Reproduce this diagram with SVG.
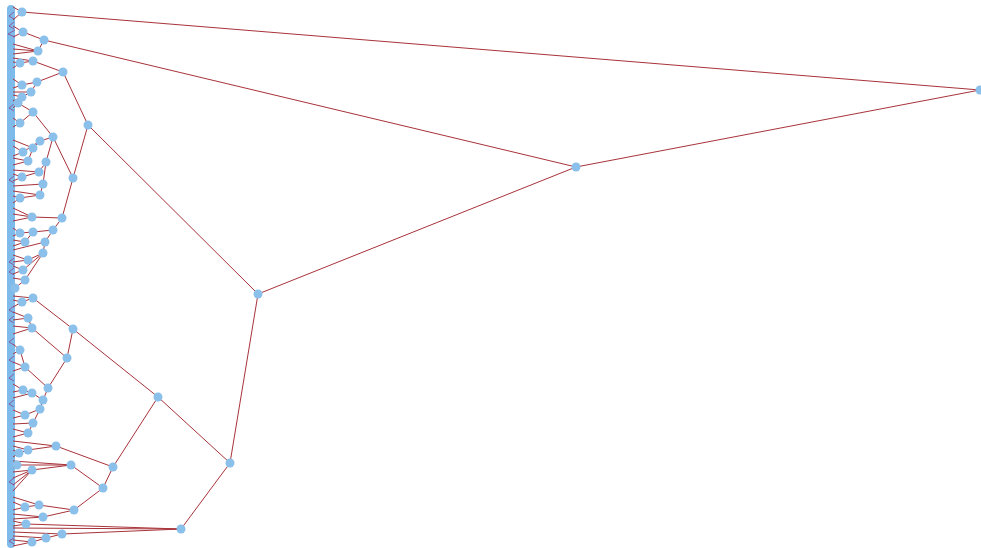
<svg xmlns="http://www.w3.org/2000/svg" width="981" height="548" viewBox="0 0 981 548">
<style>
.e{stroke:#a8333a;stroke-width:1;fill:none}
.s{stroke:#8a3a7a;stroke-width:0.9;fill:none;opacity:0.8}
.n{fill:#8ac0ea}
.bar{fill:#7fbbea}
</style>
<rect width="981" height="548" fill="#ffffff"/>
<g id="leaves"><rect class="bar" x="7" y="5" width="8" height="543" rx="4"/></g>
<g id="connectors">
<line class="e" x1="980" y1="90" x2="22" y2="12"/>
<line class="e" x1="980" y1="90" x2="576" y2="167"/>
<line class="e" x1="576" y1="167" x2="44" y2="40"/>
<line class="e" x1="576" y1="167" x2="258" y2="294"/>
<line class="e" x1="22" y1="12" x2="13" y2="7"/>
<line class="e" x1="22" y1="12" x2="13" y2="20"/>
<line class="e" x1="44" y1="40" x2="23" y2="32"/>
<line class="e" x1="44" y1="40" x2="38" y2="51"/>
<line class="e" x1="23" y1="32" x2="13" y2="26"/>
<line class="e" x1="23" y1="32" x2="13" y2="37"/>
<line class="e" x1="38" y1="51" x2="13" y2="44"/>
<line class="e" x1="38" y1="51" x2="13" y2="49"/>
<line class="e" x1="38" y1="51" x2="13" y2="54"/>
<line class="e" x1="258" y1="294" x2="88" y2="125"/>
<line class="e" x1="258" y1="294" x2="230" y2="463"/>
<line class="e" x1="88" y1="125" x2="63" y2="72"/>
<line class="e" x1="88" y1="125" x2="73" y2="178"/>
<line class="e" x1="63" y1="72" x2="33" y2="61"/>
<line class="e" x1="63" y1="72" x2="37" y2="82"/>
<line class="e" x1="33" y1="61" x2="20" y2="63"/>
<line class="e" x1="33" y1="61" x2="13" y2="58"/>
<line class="e" x1="20" y1="63" x2="13" y2="62"/>
<line class="e" x1="20" y1="63" x2="13" y2="68"/>
<line class="e" x1="37" y1="82" x2="22" y2="85"/>
<line class="e" x1="37" y1="82" x2="31" y2="92"/>
<line class="e" x1="22" y1="85" x2="13" y2="79"/>
<line class="e" x1="22" y1="85" x2="13" y2="88"/>
<line class="e" x1="31" y1="92" x2="22" y2="97"/>
<line class="e" x1="31" y1="92" x2="13" y2="92"/>
<line class="e" x1="22" y1="97" x2="13" y2="95"/>
<line class="e" x1="22" y1="97" x2="13" y2="101"/>
<line class="e" x1="73" y1="178" x2="53" y2="137"/>
<line class="e" x1="73" y1="178" x2="62" y2="218"/>
<line class="e" x1="53" y1="137" x2="33" y2="112"/>
<line class="e" x1="53" y1="137" x2="40" y2="141"/>
<line class="e" x1="53" y1="137" x2="46" y2="162"/>
<line class="e" x1="33" y1="112" x2="18" y2="103"/>
<line class="e" x1="33" y1="112" x2="20" y2="123"/>
<line class="e" x1="18" y1="103" x2="13" y2="100"/>
<line class="e" x1="18" y1="103" x2="13" y2="108"/>
<line class="e" x1="20" y1="123" x2="13" y2="118"/>
<line class="e" x1="20" y1="123" x2="13" y2="127"/>
<line class="e" x1="40" y1="141" x2="23" y2="152"/>
<line class="e" x1="40" y1="141" x2="33" y2="148"/>
<line class="e" x1="23" y1="152" x2="13" y2="146"/>
<line class="e" x1="23" y1="152" x2="13" y2="156"/>
<line class="e" x1="33" y1="148" x2="28" y2="161"/>
<line class="e" x1="33" y1="148" x2="13" y2="140"/>
<line class="e" x1="28" y1="161" x2="13" y2="158"/>
<line class="e" x1="28" y1="161" x2="13" y2="165"/>
<line class="e" x1="46" y1="162" x2="39" y2="172"/>
<line class="e" x1="46" y1="162" x2="43" y2="184"/>
<line class="e" x1="39" y1="172" x2="22" y2="177"/>
<line class="e" x1="39" y1="172" x2="13" y2="170"/>
<line class="e" x1="22" y1="177" x2="13" y2="174"/>
<line class="e" x1="22" y1="177" x2="13" y2="181"/>
<line class="e" x1="43" y1="184" x2="40" y2="195"/>
<line class="e" x1="43" y1="184" x2="13" y2="186"/>
<line class="e" x1="40" y1="195" x2="20" y2="198"/>
<line class="e" x1="40" y1="195" x2="13" y2="191"/>
<line class="e" x1="20" y1="198" x2="13" y2="196"/>
<line class="e" x1="20" y1="198" x2="13" y2="203"/>
<line class="e" x1="62" y1="218" x2="32" y2="217"/>
<line class="e" x1="62" y1="218" x2="53" y2="230"/>
<line class="e" x1="32" y1="217" x2="13" y2="208"/>
<line class="e" x1="32" y1="217" x2="13" y2="214"/>
<line class="e" x1="32" y1="217" x2="13" y2="221"/>
<line class="e" x1="53" y1="230" x2="33" y2="232"/>
<line class="e" x1="53" y1="230" x2="45" y2="242"/>
<line class="e" x1="33" y1="232" x2="20" y2="233"/>
<line class="e" x1="33" y1="232" x2="25" y2="242"/>
<line class="e" x1="20" y1="233" x2="13" y2="228"/>
<line class="e" x1="20" y1="233" x2="13" y2="236"/>
<line class="e" x1="25" y1="242" x2="13" y2="240"/>
<line class="e" x1="25" y1="242" x2="13" y2="246"/>
<line class="e" x1="45" y1="242" x2="43" y2="253"/>
<line class="e" x1="45" y1="242" x2="13" y2="250"/>
<line class="e" x1="43" y1="253" x2="28" y2="260"/>
<line class="e" x1="43" y1="253" x2="23" y2="270"/>
<line class="e" x1="43" y1="253" x2="25" y2="280"/>
<line class="e" x1="28" y1="260" x2="13" y2="255"/>
<line class="e" x1="28" y1="260" x2="13" y2="262"/>
<line class="e" x1="23" y1="270" x2="13" y2="266"/>
<line class="e" x1="23" y1="270" x2="13" y2="274"/>
<line class="e" x1="25" y1="280" x2="15" y2="288"/>
<line class="e" x1="25" y1="280" x2="13" y2="278"/>
<line class="e" x1="15" y1="288" x2="13" y2="284"/>
<line class="e" x1="15" y1="288" x2="13" y2="292"/>
<line class="e" x1="230" y1="463" x2="158" y2="397"/>
<line class="e" x1="230" y1="463" x2="181" y2="529"/>
<line class="e" x1="158" y1="397" x2="73" y2="329"/>
<line class="e" x1="158" y1="397" x2="113" y2="467"/>
<line class="e" x1="73" y1="329" x2="33" y2="298"/>
<line class="e" x1="73" y1="329" x2="67" y2="358"/>
<line class="e" x1="33" y1="298" x2="22" y2="302"/>
<line class="e" x1="33" y1="298" x2="13" y2="296"/>
<line class="e" x1="22" y1="302" x2="13" y2="300"/>
<line class="e" x1="22" y1="302" x2="13" y2="307"/>
<line class="e" x1="67" y1="358" x2="32" y2="328"/>
<line class="e" x1="67" y1="358" x2="48" y2="388"/>
<line class="e" x1="32" y1="328" x2="28" y2="318"/>
<line class="e" x1="32" y1="328" x2="13" y2="326"/>
<line class="e" x1="32" y1="328" x2="13" y2="334"/>
<line class="e" x1="28" y1="318" x2="13" y2="312"/>
<line class="e" x1="28" y1="318" x2="13" y2="320"/>
<line class="e" x1="48" y1="388" x2="25" y2="367"/>
<line class="e" x1="48" y1="388" x2="43" y2="400"/>
<line class="e" x1="25" y1="367" x2="20" y2="350"/>
<line class="e" x1="25" y1="367" x2="13" y2="362"/>
<line class="e" x1="25" y1="367" x2="13" y2="371"/>
<line class="e" x1="20" y1="350" x2="13" y2="344"/>
<line class="e" x1="20" y1="350" x2="13" y2="354"/>
<line class="e" x1="43" y1="400" x2="32" y2="393"/>
<line class="e" x1="43" y1="400" x2="40" y2="409"/>
<line class="e" x1="32" y1="393" x2="23" y2="390"/>
<line class="e" x1="32" y1="393" x2="13" y2="398"/>
<line class="e" x1="23" y1="390" x2="13" y2="384"/>
<line class="e" x1="23" y1="390" x2="13" y2="392"/>
<line class="e" x1="40" y1="409" x2="25" y2="415"/>
<line class="e" x1="40" y1="409" x2="33" y2="423"/>
<line class="e" x1="25" y1="415" x2="13" y2="410"/>
<line class="e" x1="25" y1="415" x2="13" y2="418"/>
<line class="e" x1="33" y1="423" x2="28" y2="433"/>
<line class="e" x1="33" y1="423" x2="13" y2="424"/>
<line class="e" x1="28" y1="433" x2="13" y2="429"/>
<line class="e" x1="28" y1="433" x2="13" y2="437"/>
<line class="e" x1="113" y1="467" x2="56" y2="446"/>
<line class="e" x1="113" y1="467" x2="103" y2="488"/>
<line class="e" x1="56" y1="446" x2="28" y2="450"/>
<line class="e" x1="56" y1="446" x2="13" y2="441"/>
<line class="e" x1="28" y1="450" x2="19" y2="453"/>
<line class="e" x1="28" y1="450" x2="13" y2="446"/>
<line class="e" x1="19" y1="453" x2="13" y2="450"/>
<line class="e" x1="19" y1="453" x2="13" y2="457"/>
<line class="e" x1="103" y1="488" x2="71" y2="465"/>
<line class="e" x1="103" y1="488" x2="74" y2="510"/>
<line class="e" x1="71" y1="465" x2="32" y2="470"/>
<line class="e" x1="71" y1="465" x2="17" y2="465"/>
<line class="e" x1="71" y1="465" x2="13" y2="461"/>
<line class="e" x1="17" y1="465" x2="13" y2="463"/>
<line class="e" x1="17" y1="465" x2="13" y2="468"/>
<line class="e" x1="32" y1="470" x2="13" y2="472"/>
<line class="e" x1="32" y1="470" x2="13" y2="478"/>
<line class="e" x1="32" y1="470" x2="13" y2="485"/>
<line class="e" x1="32" y1="470" x2="13" y2="491"/>
<line class="e" x1="74" y1="510" x2="39" y2="505"/>
<line class="e" x1="74" y1="510" x2="43" y2="517"/>
<line class="e" x1="39" y1="505" x2="25" y2="507"/>
<line class="e" x1="39" y1="505" x2="13" y2="497"/>
<line class="e" x1="25" y1="507" x2="13" y2="502"/>
<line class="e" x1="25" y1="507" x2="13" y2="510"/>
<line class="e" x1="43" y1="517" x2="13" y2="514"/>
<line class="e" x1="43" y1="517" x2="13" y2="519"/>
<line class="e" x1="181" y1="529" x2="62" y2="534"/>
<line class="e" x1="181" y1="529" x2="26" y2="524"/>
<line class="e" x1="181" y1="529" x2="13" y2="528"/>
<line class="e" x1="26" y1="524" x2="13" y2="521"/>
<line class="e" x1="26" y1="524" x2="13" y2="526"/>
<line class="e" x1="62" y1="534" x2="46" y2="538"/>
<line class="e" x1="62" y1="534" x2="13" y2="532"/>
<line class="e" x1="46" y1="538" x2="32" y2="542"/>
<line class="e" x1="46" y1="538" x2="13" y2="536"/>
<line class="e" x1="32" y1="542" x2="13" y2="540"/>
<line class="e" x1="32" y1="542" x2="13" y2="546"/>
<path class="s" d="M14 12 L9 16 L14 19 M14 22 L9 26 L14 29 M15 30 L8 34 L15 37 M14 104 L9 108 L14 111 M14 176 L9 180 L14 183 M14 258 L9 262 L14 265 M14 268 L9 272 L14 275 M14 306 L9 310 L14 313 M14 316 L9 320 L14 323 M14 338 L9 342 L14 345 M14 356 L9 360 L14 363 M14 374 L9 378 L14 381 M14 400 L9 404 L14 407 M14 478 L9 482 L14 485 M14 538 L9 541 L14 544"/>
</g>
<g id="R"><circle class="n" cx="980" cy="90" r="4.5"/></g>
<g id="A"><circle class="n" cx="22" cy="12" r="4.5"/></g>
<g id="B"><circle class="n" cx="576" cy="167" r="4.5"/></g>
<g id="C"><circle class="n" cx="44" cy="40" r="4.5"/></g>
<g id="C1"><circle class="n" cx="23" cy="32" r="4.5"/></g>
<g id="C2"><circle class="n" cx="38" cy="51" r="4.5"/></g>
<g id="D"><circle class="n" cx="258" cy="294" r="4.5"/></g>
<g id="E"><circle class="n" cx="88" cy="125" r="4.5"/></g>
<g id="K"><circle class="n" cx="63" cy="72" r="4.5"/></g>
<g id="K1"><circle class="n" cx="33" cy="61" r="4.5"/></g>
<g id="K2"><circle class="n" cx="20" cy="63" r="4.5"/></g>
<g id="K3"><circle class="n" cx="37" cy="82" r="4.5"/></g>
<g id="K4"><circle class="n" cx="22" cy="85" r="4.5"/></g>
<g id="K5"><circle class="n" cx="31" cy="92" r="4.5"/></g>
<g id="K6"><circle class="n" cx="22" cy="97" r="4.5"/></g>
<g id="M"><circle class="n" cx="73" cy="178" r="4.5"/></g>
<g id="N"><circle class="n" cx="53" cy="137" r="4.5"/></g>
<g id="N1"><circle class="n" cx="33" cy="112" r="4.5"/></g>
<g id="N2"><circle class="n" cx="18" cy="103" r="4.5"/></g>
<g id="N3"><circle class="n" cx="20" cy="123" r="4.5"/></g>
<g id="N4"><circle class="n" cx="40" cy="141" r="4.5"/></g>
<g id="N5"><circle class="n" cx="23" cy="152" r="4.5"/></g>
<g id="N6"><circle class="n" cx="33" cy="148" r="4.5"/></g>
<g id="N7"><circle class="n" cx="28" cy="161" r="4.5"/></g>
<g id="Q"><circle class="n" cx="46" cy="162" r="4.5"/></g>
<g id="Q1"><circle class="n" cx="39" cy="172" r="4.5"/></g>
<g id="Q2"><circle class="n" cx="22" cy="177" r="4.5"/></g>
<g id="Q3"><circle class="n" cx="43" cy="184" r="4.5"/></g>
<g id="Q4"><circle class="n" cx="40" cy="195" r="4.5"/></g>
<g id="Q5"><circle class="n" cx="20" cy="198" r="4.5"/></g>
<g id="P"><circle class="n" cx="62" cy="218" r="4.5"/></g>
<g id="P1"><circle class="n" cx="32" cy="217" r="4.5"/></g>
<g id="P2"><circle class="n" cx="53" cy="230" r="4.5"/></g>
<g id="P3"><circle class="n" cx="33" cy="232" r="4.5"/></g>
<g id="P4"><circle class="n" cx="20" cy="233" r="4.5"/></g>
<g id="P5"><circle class="n" cx="25" cy="242" r="4.5"/></g>
<g id="P6"><circle class="n" cx="45" cy="242" r="4.5"/></g>
<g id="P7"><circle class="n" cx="43" cy="253" r="4.5"/></g>
<g id="P8"><circle class="n" cx="28" cy="260" r="4.5"/></g>
<g id="P9"><circle class="n" cx="23" cy="270" r="4.5"/></g>
<g id="P10"><circle class="n" cx="25" cy="280" r="4.5"/></g>
<g id="P11"><circle class="n" cx="15" cy="288" r="4.5"/></g>
<g id="F"><circle class="n" cx="230" cy="463" r="4.5"/></g>
<g id="G"><circle class="n" cx="158" cy="397" r="4.5"/></g>
<g id="H"><circle class="n" cx="181" cy="529" r="4.5"/></g>
<g id="I"><circle class="n" cx="73" cy="329" r="4.5"/></g>
<g id="I1"><circle class="n" cx="33" cy="298" r="4.5"/></g>
<g id="I2"><circle class="n" cx="22" cy="302" r="4.5"/></g>
<g id="S"><circle class="n" cx="67" cy="358" r="4.5"/></g>
<g id="S1"><circle class="n" cx="32" cy="328" r="4.5"/></g>
<g id="S2"><circle class="n" cx="28" cy="318" r="4.5"/></g>
<g id="S3"><circle class="n" cx="48" cy="388" r="4.5"/></g>
<g id="S4"><circle class="n" cx="25" cy="367" r="4.5"/></g>
<g id="S5"><circle class="n" cx="20" cy="350" r="4.5"/></g>
<g id="S6"><circle class="n" cx="43" cy="400" r="4.5"/></g>
<g id="S7"><circle class="n" cx="32" cy="393" r="4.5"/></g>
<g id="S8"><circle class="n" cx="23" cy="390" r="4.5"/></g>
<g id="S9"><circle class="n" cx="40" cy="409" r="4.5"/></g>
<g id="S10"><circle class="n" cx="25" cy="415" r="4.5"/></g>
<g id="S11"><circle class="n" cx="33" cy="423" r="4.5"/></g>
<g id="S12"><circle class="n" cx="28" cy="433" r="4.5"/></g>
<g id="J"><circle class="n" cx="113" cy="467" r="4.5"/></g>
<g id="J1"><circle class="n" cx="56" cy="446" r="4.5"/></g>
<g id="J2"><circle class="n" cx="28" cy="450" r="4.5"/></g>
<g id="J3"><circle class="n" cx="19" cy="453" r="4.5"/></g>
<g id="J4"><circle class="n" cx="103" cy="488" r="4.5"/></g>
<g id="J5"><circle class="n" cx="71" cy="465" r="4.5"/></g>
<g id="J6"><circle class="n" cx="32" cy="470" r="4.5"/></g>
<g id="J7"><circle class="n" cx="17" cy="465" r="4.5"/></g>
<g id="J8"><circle class="n" cx="74" cy="510" r="4.5"/></g>
<g id="J9"><circle class="n" cx="39" cy="505" r="4.5"/></g>
<g id="J10"><circle class="n" cx="25" cy="507" r="4.5"/></g>
<g id="J11"><circle class="n" cx="43" cy="517" r="4.5"/></g>
<g id="H1"><circle class="n" cx="62" cy="534" r="4.5"/></g>
<g id="H2"><circle class="n" cx="46" cy="538" r="4.5"/></g>
<g id="H3"><circle class="n" cx="32" cy="542" r="4.5"/></g>
<g id="H4"><circle class="n" cx="26" cy="524" r="4.5"/></g>
</svg>
